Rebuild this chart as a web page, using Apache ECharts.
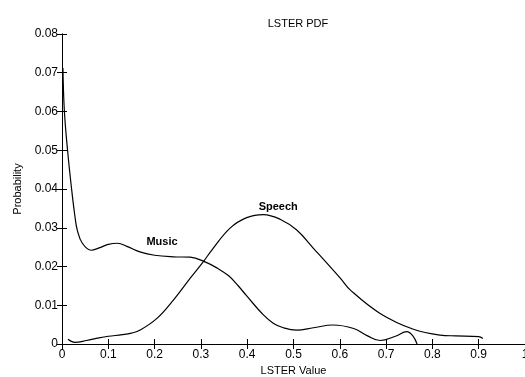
<!DOCTYPE html>
<html>
<head>
<meta charset="utf-8">
<script src="https://cdn.jsdelivr.net/npm/echarts@6/dist/echarts.min.js"></script>
<style>
  html, body { margin: 0; padding: 0; background: #fff; }
  #chart { width: 525px; height: 377px; }
</style>
</head>
<body>
<div id="chart"></div>
<script>
  // LSTER value (x) and probability (y)
  var musicX = [0.002, 0.005, 0.012, 0.021, 0.028, 0.033, 0.044, 0.063, 0.08, 0.1, 0.12, 0.14, 0.17, 0.2, 0.24, 0.277,
    0.309, 0.335, 0.36, 0.38, 0.399, 0.435, 0.457, 0.478, 0.507, 0.543, 0.585, 0.63, 0.66, 0.687, 0.72, 0.745, 0.757, 0.767];
  var musicY = [0.0712, 0.0604, 0.050, 0.0397, 0.0329, 0.0294, 0.026, 0.0242, 0.0248, 0.0257, 0.026, 0.0252, 0.0237, 0.0229, 0.0225, 0.0224,
    0.0212, 0.0196, 0.0176, 0.0151, 0.0124, 0.0075, 0.0053, 0.0042, 0.0036, 0.0042, 0.0049, 0.0040, 0.0021, 0.0009, 0.0020, 0.0032, 0.0022, 0.0];

  var speechX = [0.013, 0.028, 0.053, 0.08, 0.1, 0.13, 0.15, 0.169, 0.205, 0.241, 0.277, 0.305, 0.324, 0.363, 0.399, 0.435, 0.471,
    0.507, 0.543, 0.601, 0.623, 0.687, 0.759, 0.817, 0.85, 0.9, 0.909];
  var speechY = [0.0012, 0.0004, 0.0009, 0.0016, 0.0020, 0.0024, 0.0028, 0.0036, 0.0066, 0.0114, 0.017, 0.0212, 0.0243, 0.0299, 0.0326, 0.0334, 0.0322,
    0.0294, 0.0247, 0.017, 0.0139, 0.0079, 0.0038, 0.0023, 0.0021, 0.0019, 0.0014];

  var musicLabel = [0.216, 0.0263];
  var speechLabel = [0.467, 0.0353];

  var font = 'Arial, "Liberation Sans", sans-serif';

  function pairs(xs, ys) {
    return xs.map(function (x, i) { return [x, ys[i]] })
  }

  var myChart = echarts.init(document.getElementById('chart'))

  var boxAxis = {
    axisLine: { show: true, lineStyle: { color: '#000', width: 1 } },
    axisTick: { show: true, inside: true, length: 5, lineStyle: { color: '#000' } },
    axisLabel: { show: false },
    splitLine: { show: false }
  }

  myChart.setOption({
    animation: false,
    title: {
      text: 'LSTER PDF',
      left: 293,
      textAlign: 'center',
      top: 13,
      textStyle: { fontFamily: font, fontSize: 11, fontWeight: 'normal', color: '#000' }
    },
    grid: { left: 62, right: 0, top: 34, bottom: 33, containLabel: false, outerBoundsMode: 'none' },
    xAxis: [
      Object.assign({}, boxAxis, {
        type: 'value', min: 0, max: 1, interval: 0.1, position: 'bottom',
        name: 'LSTER Value', nameLocation: 'middle', nameGap: 20,
        nameTextStyle: { fontFamily: font, fontSize: 11, color: '#000' },
        axisLabel: {
          show: true, color: '#000', fontFamily: font, fontSize: 12, margin: 5,
          formatter: function (v) { return String(+v.toFixed(1)) }
        }
      }),
      Object.assign({}, boxAxis, { type: 'value', min: 0, max: 1, interval: 0.1, position: 'top' })
    ],
    yAxis: [
      Object.assign({}, boxAxis, {
        type: 'value', min: 0, max: 0.08, interval: 0.01, position: 'left',
        name: 'Probability', nameLocation: 'middle', nameGap: 38,
        nameTextStyle: { fontFamily: font, fontSize: 11, color: '#000' },
        axisLabel: {
          show: true, color: '#000', fontFamily: font, fontSize: 12, margin: 4,
          formatter: function (v) { return String(+v.toFixed(2)) }
        }
      }),
      Object.assign({}, boxAxis, { type: 'value', min: 0, max: 0.08, interval: 0.01, position: 'right' })
    ],
    series: [
      {
        name: 'Music', type: 'line', symbol: 'none', smooth: 0.4,
        lineStyle: { color: '#000', width: 1.2 },
        data: pairs(musicX, musicY),
        markPoint: {
          symbol: 'circle', symbolSize: 0,
          label: { show: true, formatter: 'Music', color: '#000', fontFamily: font, fontSize: 11, fontWeight: 'bold' },
          data: [{ coord: musicLabel }]
        }
      },
      {
        name: 'Speech', type: 'line', symbol: 'none', smooth: 0.4,
        lineStyle: { color: '#000', width: 1.2 },
        data: pairs(speechX, speechY),
        markPoint: {
          symbol: 'circle', symbolSize: 0,
          label: { show: true, formatter: 'Speech', color: '#000', fontFamily: font, fontSize: 11, fontWeight: 'bold' },
          data: [{ coord: speechLabel }]
        }
      }
    ]
  })
</script>
</body>
</html>
